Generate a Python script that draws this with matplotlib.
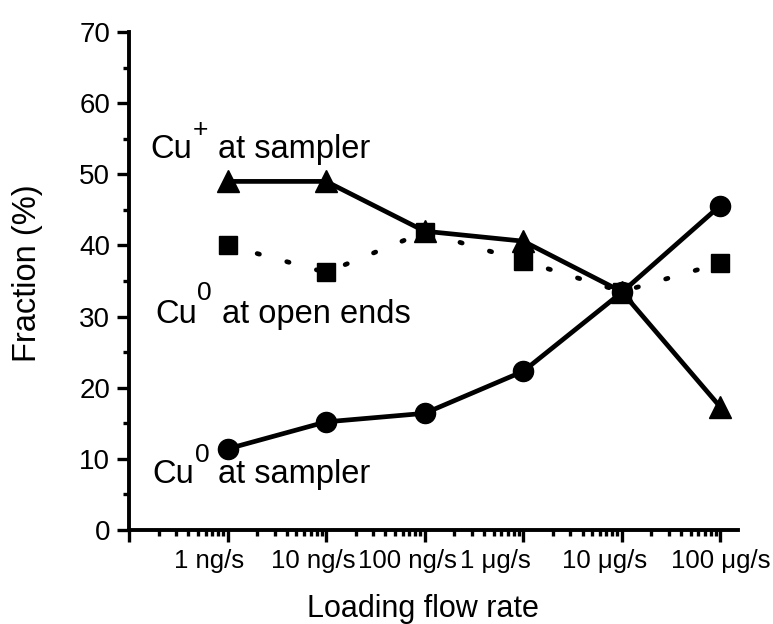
import matplotlib
matplotlib.use("Agg")
import matplotlib.pyplot as plt
from matplotlib.ticker import FixedLocator, NullFormatter, LogLocator
import numpy as np

plt.rcParams['font.family'] = ['Liberation Sans', 'DejaVu Sans']

# ---------------- data ----------------
flow_ngs = [1, 10, 100, 1000, 1e4, 1e5]          # loading flow rate (ng/s)
tick_labels = ["1 ng/s", "10 ng/s", "100 ng/s", "1 \u03bcg/s", "10 \u03bcg/s", "100 \u03bcg/s"]
cu_plus_sampler = [49.0, 49.0, 42.0, 40.6, 33.5, 17.3]   # triangles
cu0_sampler = [11.4, 15.2, 16.4, 22.3, 33.4, 45.6]        # circles
cu0_open_ends = [40.0, 36.2, 41.9, 37.8, 33.5, 37.5]      # squares

W, H, DPI = 773, 624, 100
fig = plt.figure(figsize=(W / DPI, H / DPI), dpi=DPI)
ax = fig.add_axes([129 / W, 1 - 530 / H, (738 - 129) / W, (530 - 32) / H])

lw = 3.4
ax.plot(flow_ngs, cu_plus_sampler, color='black', lw=lw, marker='^', ms=16.5,
        zorder=3, clip_on=False)
ax.plot(flow_ngs, cu0_sampler, color='black', lw=lw, marker='o', ms=14.5,
        zorder=3, clip_on=False)
ax.plot(flow_ngs, cu0_open_ends, color='black', lw=lw, ls=(0, (0.5, 6.0)),
        dash_capstyle='round', marker='s', ms=13, zorder=3, clip_on=False)

ax.set_xscale('log')
ax.set_xlim(0.1, 1e5 * 10 ** 0.18)
ax.set_ylim(0, 70)

for s in ['top', 'right']:
    ax.spines[s].set_visible(False)
for s in ['left', 'bottom']:
    ax.spines[s].set_linewidth(2.8)

# x ticks
ax.xaxis.set_major_locator(FixedLocator([0.1] + flow_ngs))
ax.xaxis.set_minor_locator(LogLocator(base=10, subs=np.arange(2, 10), numticks=20))
ax.xaxis.set_major_formatter(NullFormatter())
ax.xaxis.set_minor_formatter(NullFormatter())
ax.tick_params(axis='x', which='major', direction='out', length=8.6, width=2.4)
ax.tick_params(axis='x', which='minor', direction='out', length=4.5, width=2.4)

# y ticks
ax.set_yticks(np.arange(0, 71, 10))
ax.set_yticks(np.arange(5, 70, 10), minor=True)
ax.tick_params(axis='y', which='major', direction='out', length=8.6, width=2.4,
               labelsize=20, pad=5)
ax.tick_params(axis='y', which='minor', direction='out', length=4.5, width=2.4)

# x tick labels (custom offsets as in the original)
label_dx_px = [-18, -13, -17, -28, -17, 0]
for xv, lab, dx in zip(flow_ngs, tick_labels, label_dx_px):
    ax.annotate(lab, xy=(xv, 0), xycoords=('data', 'axes fraction'),
                xytext=(dx * 72 / DPI, -38 * 72 / DPI), textcoords='offset points',
                ha='center', va='baseline', fontsize=18.5)

# axis labels
fig.text(423 / W, 1 - 617 / H, "Loading flow rate", ha='center', va='baseline', fontsize=22)
fig.text(28 / W, 1 - 273 / H, "Fraction (%)", ha='center', va='center',
         rotation=90, fontsize=23.5)

# annotations
def label(x_cu, y_base, sup, x_sup, y_sup, x_rest, rest):
    fig.text(x_cu / W, 1 - y_base / H, "Cu", ha='left', va='baseline', fontsize=23.5)
    fig.text(x_sup / W, 1 - y_sup / H, sup, ha='left', va='baseline', fontsize=19)
    fig.text(x_rest / W, 1 - y_base / H, rest, ha='left', va='baseline', fontsize=23.5)

label(150, 158, "+", 193, 137, 218, "at sampler")
label(155, 323, "0", 197, 300, 222, "at open ends")
label(152, 483, "0", 195, 462, 218, "at sampler")

fig.savefig("out.png", dpi=DPI)
